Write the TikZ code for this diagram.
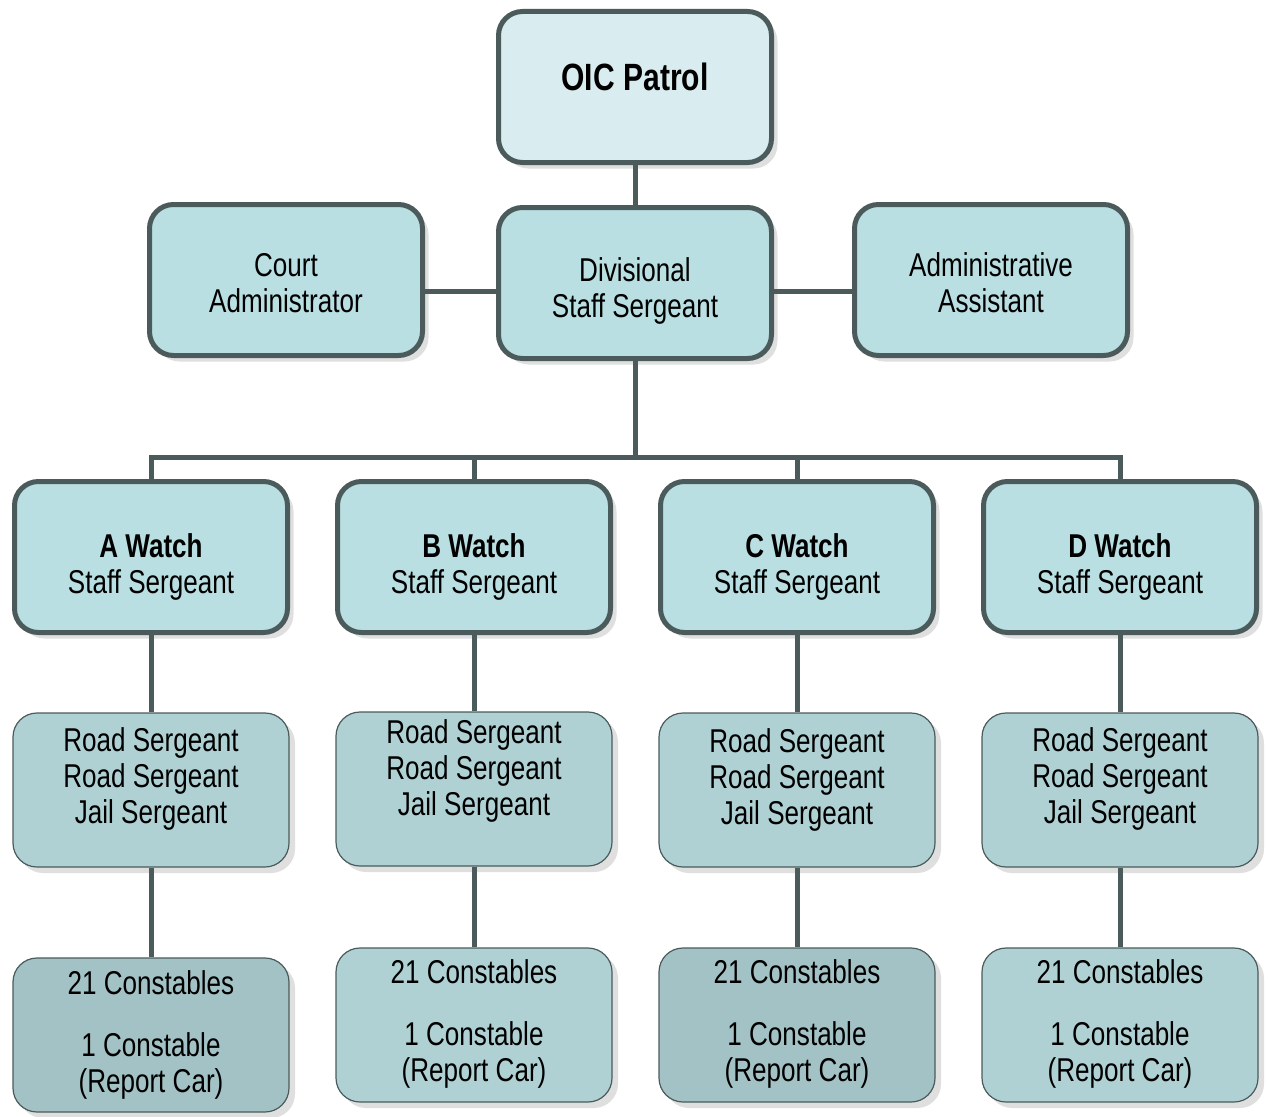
\documentclass[tikz,border=0pt]{standalone}
\usepackage{fontspec}
\setmainfont{Liberation Sans}[FakeStretch=0.79]
\usetikzlibrary{shadows}

\definecolor{edgegrey}{HTML}{4B5B5B}
\definecolor{topfill}{HTML}{D9EDF0}
\definecolor{headfill}{HTML}{B9DFE2}
\definecolor{roadfill}{HTML}{AFD1D4}
\definecolor{crewfill}{HTML}{A3C2C5}

\tikzset{
  card/.style={draw=edgegrey, rounded corners=24pt, align=center, inner sep=2pt,
    font=\fontsize{33pt}{36pt}\selectfont,
    drop shadow={shadow xshift=6pt, shadow yshift=-6pt, fill=black!25}},
  headbox/.style={card, line width=5pt, fill=headfill,
    minimum width=273pt, minimum height=151pt, text height=83pt, text depth=10pt},
  lowbox/.style={card, line width=1.2pt, fill=roadfill,
    minimum width=276pt, minimum height=154pt, text depth=10pt},
  link/.style={draw=edgegrey, line width=5pt}
}

\begin{document}
\begin{tikzpicture}[x=1pt, y=-1pt]
  \useasboundingbox (0,0) rectangle (1268,1116);
  % top of the chart
  \node[headbox, fill=topfill, text height=26pt, text depth=20pt,
    font=\fontsize{38pt}{40pt}\selectfont\bfseries] (oic) at (635,87) {OIC Patrol};
  \node[headbox, text height=79pt] (div) at (635,283) {Divisional\\Staff Sergeant};
  \node[headbox, text height=75pt] (court) at (286,280) {Court\\Administrator};
  \node[headbox, text height=75pt] (admin) at (991,280) {Administrative\\Assistant};
  \coordinate (bus) at (635,457);

  \draw[link] (oic) -- (div);
  \draw[link] ([yshift=-8pt]div.west) -- ([yshift=-8pt]div.west -| court.east);
  \draw[link] ([yshift=-8pt]div.east) -- ([yshift=-8pt]div.east -| admin.west);

  % the four watches
  \foreach \w/\x/\ry/\rh/\cy/\ch/\cf in {A/151/790/77/1035/125/crewfill, B/474/789/62/1025/122/roadfill,
                                         C/797/790/78/1025/122/crewfill, D/1120/790/77/1025/122/roadfill} {
    \node[headbox] (w\w) at (\x,557) {\textbf{\w{} Watch}\\Staff Sergeant};
    \node[lowbox, text height=\rh pt] (r\w) at (\x,\ry)
      {Road Sergeant\\Road Sergeant\\Jail Sergeant};
    \node[lowbox, fill=\cf, text height=\ch pt] (c\w) at (\x,\cy)
      {21 Constables\\[26pt]1 Constable\\(Report Car)};
    \draw[link] (w\w) -- (r\w);
    \draw[link] (r\w) -- (c\w);
  }

  \draw[link] (div) -- (bus);
  \draw[link] (wA.north) |- (bus) -| (wD.north);
  \draw[link] (wB.north) -- (wB.north |- bus);
  \draw[link] (wC.north) -- (wC.north |- bus);
\end{tikzpicture}
\end{document}
